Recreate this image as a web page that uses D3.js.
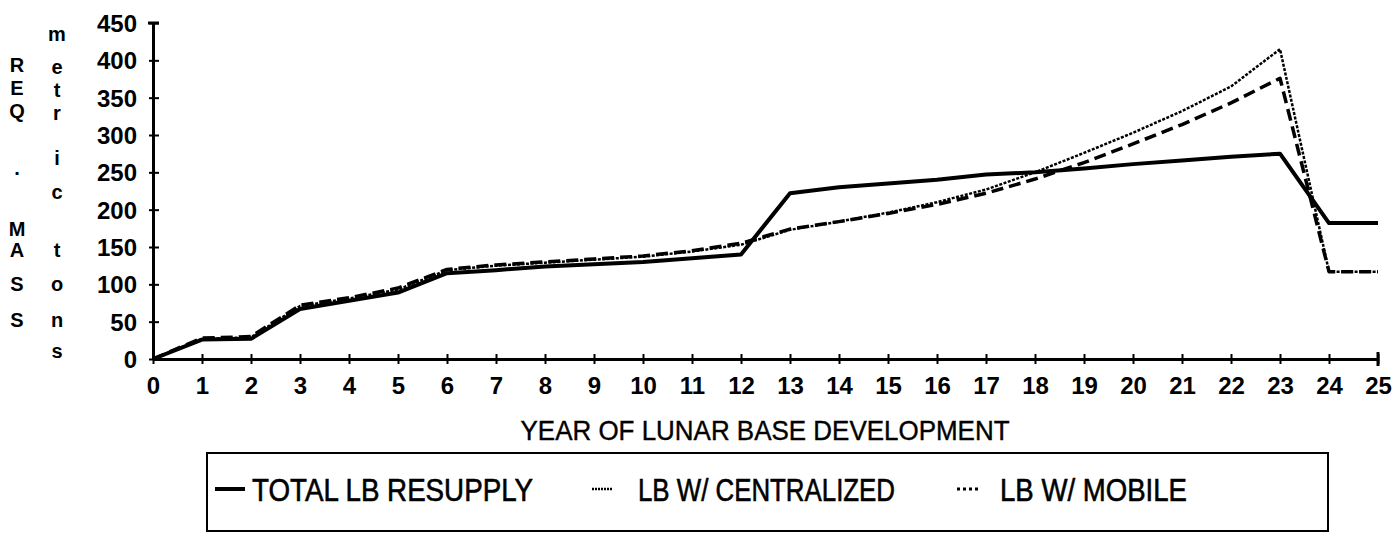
<!DOCTYPE html>
<html>
<head>
<meta charset="utf-8">
<script src="https://cdn.jsdelivr.net/npm/d3@7"></script>
<style>
  body { margin: 0; background: #fff; }
  svg { display: block; font-family: "Liberation Sans", Arial, sans-serif; }
</style>
</head>
<body>
<div id="chart"></div>
<script>
// Lunar base resupply mass by year

const years = d3.range(0, 26);
const yTicks = [0, 50, 100, 150, 200, 250, 300, 350, 400, 450];

const totalResupply = [0, 26, 27, 67, 78, 89, 115, 119, 124, 127, 130, 135, 140,
  222, 230, 235, 240, 247, 250, 255, 261, 266, 271, 275, 182, 182];
const centralized = [0, 27, 29, 71, 81, 93, 119, 125, 129, 133, 137, 144, 153,
  173, 184, 196, 210, 227, 250, 276, 303, 332, 365, 415, 117, 117];
const mobile = [0, 28, 30, 72, 82, 95, 120, 126, 130, 134, 138, 145, 155,
  174, 184, 195, 207, 222, 241, 263, 288, 314, 343, 376, 117, 117];

const seriesNames = ["TOTAL LB RESUPPLY", "LB W/ CENTRALIZED", "LB W/ MOBILE"];

// letters of the stacked axis title, with their baselines
const yLabelCol1 = [["R", 72], ["E", 95], ["Q", 118], [".", 175], ["M", 236], ["A", 257], ["S", 291], ["S", 327]];
const yLabelCol2 = [["m", 41], ["e", 74], ["t", 97], ["r", 120], ["i", 165], ["c", 199], ["t", 257], ["o", 291], ["n", 327], ["s", 358]];

const width = 1399, height = 533;

const svg = d3.select("#chart").append("svg")
    .attr("width", width)
    .attr("height", height);

const x = d3.scaleLinear().domain([0, 25]).range([153, 1378]);
const y = d3.scaleLinear().domain([0, 450]).range([359, 23]);

// axes
const xAxis = svg.append("g")
    .attr("transform", `translate(0,${y(0)})`)
    .call(d3.axisBottom(x).tickValues(years).tickSize(0).tickPadding(0).tickFormat(""));
xAxis.select(".domain").attr("stroke", "#000").attr("stroke-width", 3);
xAxis.selectAll(".tick").append("line")
    .attr("y1", -5).attr("y2", 5)
    .attr("stroke", "#000").attr("stroke-width", 2);
xAxis.selectAll(".tick").append("text")
    .attr("y", 35)
    .attr("fill", "#000")
    .attr("font-size", 24)
    .attr("font-weight", "bold")
    .attr("text-anchor", "middle")
    .text(d => d);

const yAxis = svg.append("g")
    .attr("transform", `translate(${x(0)},0)`)
    .call(d3.axisLeft(y).tickValues(yTicks).tickSize(0).tickPadding(0).tickFormat(""));
yAxis.select(".domain").attr("stroke", "#000").attr("stroke-width", 3);
yAxis.selectAll(".tick").append("line")
    .attr("x1", -4).attr("x2", 6)
    .attr("stroke", "#000").attr("stroke-width", 2);
yAxis.selectAll(".tick").append("text")
    .attr("x", -16)
    .attr("dy", "0.36em")
    .attr("fill", "#000")
    .attr("font-size", 24)
    .attr("font-weight", "bold")
    .attr("text-anchor", "end")
    .text(d => d);

// end caps
svg.append("line")
    .attr("x1", x(0) - 5).attr("x2", x(0) + 6)
    .attr("y1", y(450)).attr("y2", y(450))
    .attr("stroke", "#000").attr("stroke-width", 3);
svg.append("line")
    .attr("x1", x(25)).attr("x2", x(25))
    .attr("y1", y(0) - 7).attr("y2", y(0) + 7)
    .attr("stroke", "#000").attr("stroke-width", 3);

// stacked y label
svg.append("g").selectAll("text")
    .data(yLabelCol1)
    .join("text")
    .attr("x", 17).attr("y", d => d[1])
    .attr("text-anchor", "middle")
    .attr("font-size", 20)
    .attr("font-weight", "bold")
    .text(d => d[0]);
svg.append("g").selectAll("text")
    .data(yLabelCol2)
    .join("text")
    .attr("x", 57).attr("y", d => d[1])
    .attr("text-anchor", "middle")
    .attr("font-size", 20)
    .attr("font-weight", "bold")
    .text(d => d[0]);

svg.append("text")
    .attr("x", 765).attr("y", 440)
    .attr("text-anchor", "middle")
    .attr("font-size", 28)
    .attr("stroke", "#000")
    .attr("stroke-width", 0.4)
    .attr("textLength", 489)
    .attr("lengthAdjust", "spacingAndGlyphs")
    .text("YEAR OF LUNAR BASE DEVELOPMENT");

// lines
const line = d3.line().x((d, i) => x(years[i])).y(d => y(d));

const styles = [
  { data: totalResupply, width: 4, dash: null },
  { data: centralized, width: 2.5, dash: "3,1.5" },
  { data: mobile, width: 3.5, dash: "12,6" }
];

svg.append("g").selectAll("path")
    .data(styles)
    .join("path")
    .attr("d", d => line(d.data))
    .attr("fill", "none")
    .attr("stroke", "#000")
    .attr("stroke-width", d => d.width)
    .attr("stroke-dasharray", d => d.dash)
    .attr("stroke-linejoin", "round");

// legend
const legend = svg.append("g");
legend.append("rect")
    .attr("x", 207).attr("y", 453)
    .attr("width", 1121).attr("height", 78)
    .attr("fill", "none")
    .attr("stroke", "#000")
    .attr("stroke-width", 2);

const legendItems = [
  { s0: 215, s1: 245, tx: 252, tl: 281, width: 4, dash: null },
  { s0: 592, s1: 613, tx: 638, tl: 257, width: 2.5, dash: "2,1" },
  { s0: 957, s1: 978, tx: 1000, tl: 187, width: 3, dash: "3,3" }
];

legendItems.forEach((it, i) => {
  legend.append("line")
      .attr("x1", it.s0).attr("x2", it.s1)
      .attr("y1", 489).attr("y2", 489)
      .attr("stroke", "#000")
      .attr("stroke-width", it.width)
      .attr("stroke-dasharray", it.dash);
  legend.append("text")
      .attr("x", it.tx).attr("y", 501)
      .attr("font-size", 31)
      .attr("stroke", "#000")
      .attr("stroke-width", 0.6)
      .attr("textLength", it.tl)
      .attr("lengthAdjust", "spacingAndGlyphs")
      .text(seriesNames[i]);
});
</script>
</body>
</html>
